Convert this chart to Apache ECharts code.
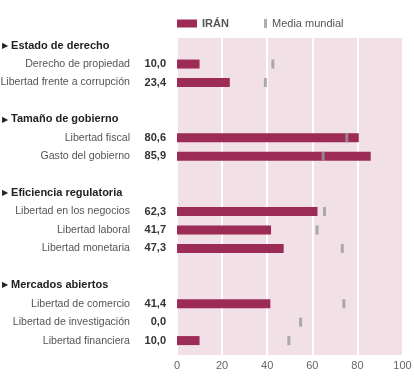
<!DOCTYPE html>
<html><head><meta charset="utf-8">
<script src="https://cdn.jsdelivr.net/npm/echarts@6/dist/echarts.min.js"></script>
<style>html,body{margin:0;padding:0;background:#fff}#c{width:414px;height:388px}</style>
</head><body><div id="c"></div>
<script>
// Rows top to bottom: group headers, indicators, blank spacer rows
const groups = ['Estado de derecho', 'Tamaño de gobierno', 'Eficiencia regulatoria', 'Mercados abiertos'];
const indicators = [
  ['Derecho de propiedad', 'Libertad frente a corrupción'],
  ['Libertad fiscal', 'Gasto del gobierno'],
  ['Libertad en los negocios', 'Libertad laboral', 'Libertad monetaria'],
  ['Libertad de comercio', 'Libertad de investigación', 'Libertad financiera']
];
const iranValues = [[10.0, 23.4], [80.6, 85.9], [62.3, 41.7, 47.3], [41.4, 0.0, 10.0]];
const worldAvg = [[42.5, 39.2], [75.3, 64.8], [65.4, 62.1, 73.3], [74.0, 54.8, 49.6]];
const xTicks = [0, 20, 40, 60, 80, 100];

const cats = [], barData = [], avgData = [], rowInfo = [];
groups.forEach((g, gi) => {
  if (gi > 0) { cats.push('gap' + gi); barData.push(null); avgData.push(null); rowInfo.push({type: 'gap'}); }
  cats.push('h' + gi); barData.push(null); avgData.push(null); rowInfo.push({type: 'hdr', text: g});
  indicators[gi].forEach((n, k) => {
    cats.push(n);
    barData.push(iranValues[gi][k]);
    avgData.push([worldAvg[gi][k], n]);
    rowInfo.push({type: 'ind', text: n, val: iranValues[gi][k]});
  });
});

const chart = echarts.init(document.getElementById('c'));
const FONT = 'Liberation Sans, Arial, sans-serif';
chart.setOption({
  animation: false,
  textStyle: {fontFamily: FONT},
  legend: [
    {data: ['IRÁN'], left: 177, top: 18, padding: 0, itemWidth: 20, itemHeight: 8, icon: 'rect',
     textStyle: {color: '#555', fontSize: 11, fontWeight: 'bold', fontFamily: FONT}, selectedMode: false},
    {data: ['Media mundial'], left: 264, top: 18, padding: 0, itemWidth: 3, itemHeight: 9, icon: 'rect',
     textStyle: {color: '#555', fontSize: 11, fontFamily: FONT}, selectedMode: false}
  ],
  grid: [
    {left: 177, right: 11.5, top: 38, bottom: 33, show: true, backgroundColor: '#f1e0e6', borderWidth: 0,
     containLabel: false, outerBoundsMode: 'none'},
    {left: 177, right: 11.5, top: 36.4, bottom: 38.2, containLabel: false, outerBoundsMode: 'none'}
  ],
  xAxis: [
    {gridIndex: 0, type: 'value', min: 0, max: 100, interval: 20,
     axisLine: {show: false}, axisTick: {show: false},
     splitLine: {show: true, lineStyle: {color: '#ffffff', width: 2}},
     axisLabel: {color: '#666', fontSize: 11, margin: 5, fontFamily: FONT,
       formatter: v => xTicks.indexOf(v) >= 0 ? String(v) : ''}},
    {gridIndex: 1, type: 'value', min: 0, max: 100, show: false}
  ],
  yAxis: [
    {gridIndex: 0, type: 'value', show: false},
    {gridIndex: 1, type: 'category', data: cats, inverse: true,
     axisLine: {show: false}, axisTick: {show: false}, splitLine: {show: false},
     axisLabel: {
       interval: 0, align: 'left', margin: 175,
       formatter: (v, i) => {
         const r = rowInfo[i];
         if (r.type === 'gap') return '';
         if (r.type === 'hdr') return '{tri|▶}{hdr| ' + r.text + '}';
         return '{name|' + r.text + '}{val|' + r.val.toFixed(1).replace('.', ',') + '}';
       },
       rich: {
         tri: {fontSize: 8, color: '#222', fontFamily: FONT},
         hdr: {fontSize: 11, fontWeight: 'bold', color: '#222', fontFamily: FONT},
         name: {fontSize: 10.6, color: '#555', width: 128, align: 'right', fontFamily: FONT},
         val: {fontSize: 11, color: '#333', fontWeight: 'bold', width: 36, align: 'right', fontFamily: FONT}
       }
     }}
  ],
  series: [
    {name: 'IRÁN', type: 'bar', xAxisIndex: 1, yAxisIndex: 1, data: barData, barWidth: 9,
     itemStyle: {color: '#9c2b56'}, z: 2},
    {name: 'Media mundial', type: 'scatter', xAxisIndex: 1, yAxisIndex: 1, data: avgData,
     symbol: 'rect', symbolSize: [3, 9], itemStyle: {color: '#9a9a9a'}, z: 3}
  ]
});
</script></body></html>
